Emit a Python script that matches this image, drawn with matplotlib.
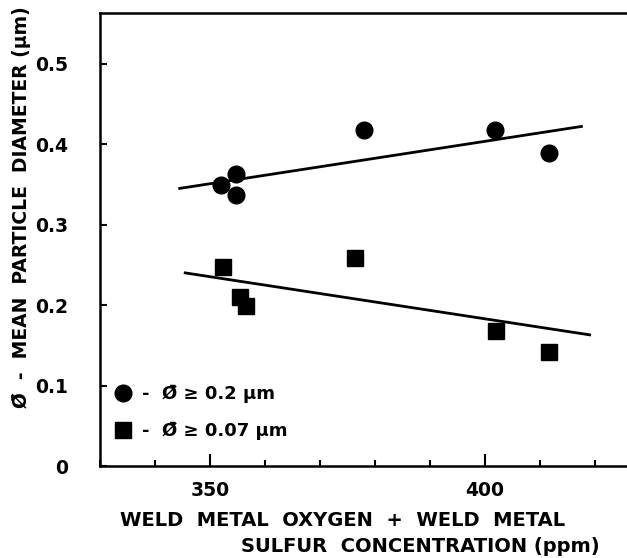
import numpy as np
import matplotlib
matplotlib.use("Agg")
import matplotlib.pyplot as plt
from matplotlib.ticker import MultipleLocator

# data
circle_x = [352.1, 354.8, 354.8, 378.1, 401.9, 411.7]
circle_y = [0.349, 0.363, 0.337, 0.418, 0.418, 0.389]
square_x = [352.3, 355.5, 356.6, 376.4, 402.1, 411.7]
square_y = [0.247, 0.210, 0.199, 0.258, 0.168, 0.142]

# fitted trend lines (end points)
circle_fit_x = [344.5, 417.6]
circle_fit_y = [0.345, 0.422]
square_fit_x = [345.5, 419.1]
square_fit_y = [0.240, 0.163]

x_ticks = [350, 400]
y_ticks = [0, 0.1, 0.2, 0.3, 0.4, 0.5]
y_ticklabels = ["0", "0.1", "0.2", "0.3", "0.4", "0.5"]

plt.rcParams['font.family'] = ['DejaVu Sans']

W, H = 627, 558
fig = plt.figure(figsize=(W / 100, H / 100), dpi=100)
ax = fig.add_axes([100 / W, 92 / H, 1 - 100 / W, 453 / H])

# points
c_line, = ax.plot(circle_x, circle_y, 'o', color='black', markersize=12, linestyle='none')
s_line, = ax.plot(square_x, square_y, 's', color='black', markersize=11, linestyle='none')

# trend lines
ax.plot(circle_fit_x, circle_fit_y, '-', color='black', linewidth=2)
ax.plot(square_fit_x, square_fit_y, '-', color='black', linewidth=2)

ax.set_xlim(330, 425.9)
ax.set_ylim(0, 0.563)

ax.set_xticks(x_ticks)
ax.xaxis.set_minor_locator(MultipleLocator(10))
ax.set_yticks(y_ticks)
ax.set_yticklabels(y_ticklabels)

ax.tick_params(axis='both', which='major', direction='in', width=1.5, labelsize=13.5)
ax.tick_params(axis='x', which='major', length=9, pad=11)
ax.tick_params(axis='y', which='major', length=5, pad=23)
ax.tick_params(axis='x', which='minor', direction='in', length=4, width=1.5)
for lab in ax.get_xticklabels() + ax.get_yticklabels():
    lab.set_fontweight('bold')

ax.spines['right'].set_visible(False)
for s in ['left', 'bottom', 'top']:
    ax.spines[s].set_linewidth(1.8)

obar = 'Ø\u0304'
ax.set_ylabel(obar + '  -  MEAN  PARTICLE  DIAMETER (μm)', fontsize=13.5,
              fontweight='bold')
ax.yaxis.set_label_coords(-0.131, 0.572)

fig.text(343 / W, 1 - 520 / H, 'WELD  METAL  OXYGEN  +  WELD  METAL', fontsize=14,
         fontweight='bold', ha='center', va='center')
fig.text(420 / W, 1 - 547 / H, 'SULFUR  CONCENTRATION (ppm)', fontsize=14,
         fontweight='bold', ha='center', va='center')

leg = ax.legend([c_line, s_line],
                ['-  ' + obar + ' ≥ 0.2 μm', '-  ' + obar + ' ≥ 0.07 μm'],
                loc='lower left', bbox_to_anchor=(0.0, 0.021), frameon=False,
                numpoints=1, handlelength=0.8, handletextpad=0.6,
                labelspacing=1.05, prop={'size': 13, 'weight': 'bold'})

fig.savefig('out.png', dpi=100)
